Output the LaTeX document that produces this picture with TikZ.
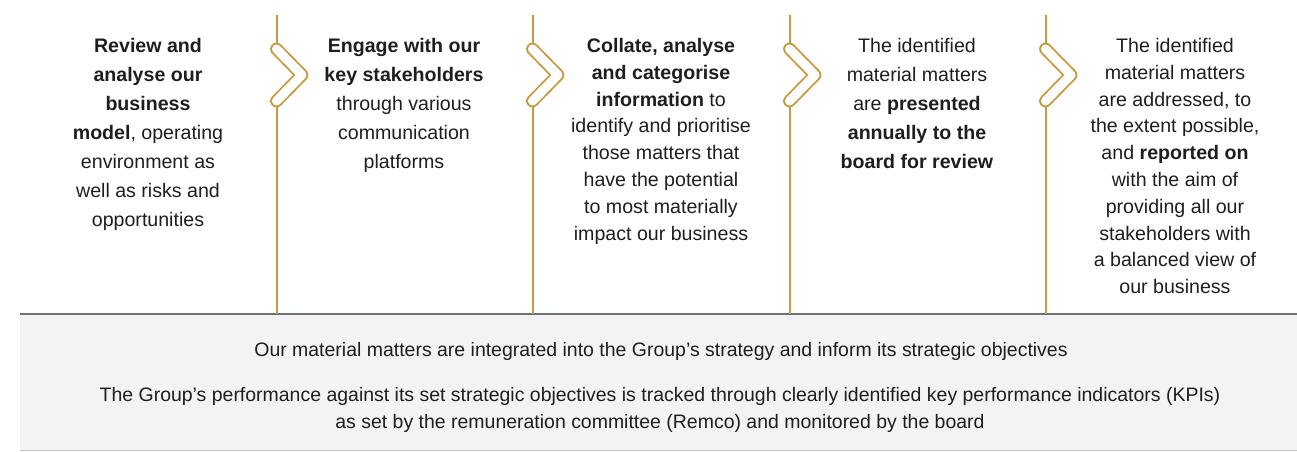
\documentclass[tikz,border=0pt]{standalone}
\usepackage{xcolor}
\usepackage{fontspec}
\setmainfont{Liberation Sans}
\usepackage{tikz}

\definecolor{gold}{HTML}{C59A44}
\definecolor{panel}{HTML}{F3F3F3}
\definecolor{rulegray}{HTML}{6A7272}
\definecolor{ink}{HTML}{1E1E1E}

\begin{document}
\begin{tikzpicture}[x=0.75pt,y=-0.75pt,
  steptext/.style={anchor=north, align=center, inner sep=0pt, text=ink, font=\fontsize{14.7}{21.75}\selectfont},
  tighttext/.style={steptext, font=\fontsize{14.7}{20.1}\selectfont},
  paneltext/.style={align=center, inner sep=0pt, text=ink, font=\fontsize{14.6}{20.2}\selectfont}]
\useasboundingbox (0,0) rectangle (1297,451);
% grey panel along the bottom
\fill[panel] (20,314) rectangle (1297,450);
\draw[rulegray, line width=1.5pt] (20,314) -- (1297,314);
\draw[gray!45, line width=0.75pt] (20,450) -- (1297,450);
% dividers, broken around the chevrons
\foreach \x in {277,533,790,1046}{
  \draw[gold, line width=1pt] (\x,15) -- (\x,44);
  \draw[gold, line width=1pt] (\x,106) -- (\x,314);
  \draw[gold, line width=9.6pt, line cap=round, line join=round] (\x-0.5,49) -- (\x+25,75) -- (\x-0.5,101);
  \draw[white, line width=6.8pt, line cap=round, line join=round] (\x-0.5,49) -- (\x+25,75) -- (\x-0.5,101);
}
\node[steptext] (StepOne) at (148,38) {\textbf{Review and}\\\textbf{analyse our}\\\textbf{business}\\\textbf{model}, operating\\environment as\\well as risks and\\opportunities};
\node[steptext] (StepTwo) at (404,38) {\textbf{Engage with our}\\\textbf{key stakeholders}\\through various\\communication\\platforms};
\node[tighttext] (StepThree) at (661,38) {\textbf{Collate, analyse}\\\textbf{and categorise}\\\textbf{information} to\\identify and prioritise\\those matters that\\have the potential\\to most materially\\impact our business};
\node[steptext] (StepFour) at (917,38) {The identified\\material matters\\are \textbf{presented}\\\textbf{annually to the}\\\textbf{board for review}};
\node[tighttext] (StepFive) at (1175,38) {The identified\\material matters\\are addressed, to\\the extent possible,\\and \textbf{reported on}\\with the aim of\\providing all our\\stakeholders with\\a balanced view of\\our business};
\node[paneltext] (Strategy) at (661,351) {Our material matters are integrated into the Group’s strategy and inform its strategic objectives};
\node[paneltext] (Tracking) at (660,409.5) {The Group’s performance against its set strategic objectives is tracked through clearly identified key performance indicators (KPIs)\\as set by the remuneration committee (Remco) and monitored by the board};
\end{tikzpicture}
\end{document}
